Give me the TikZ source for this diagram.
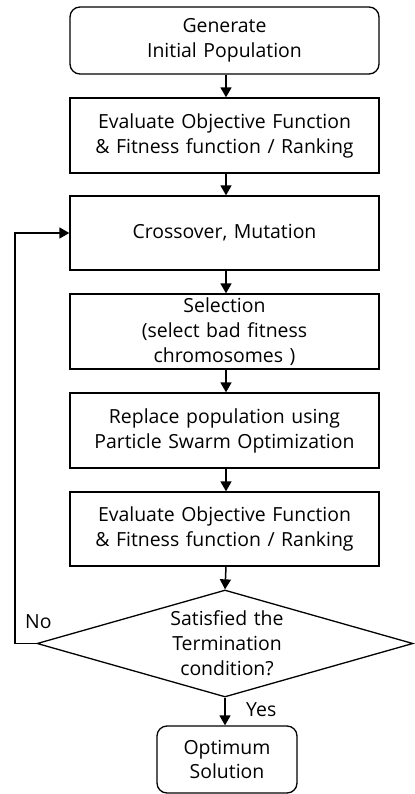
\documentclass[tikz,border=0pt]{standalone}
\usepackage{fontspec}
\setmainfont{Open Sans}[WordSpace={1.3}]
\usetikzlibrary{shapes.geometric,arrows.meta}
\begin{document}
\begin{tikzpicture}[x=1bp,y=-1bp,
  every node/.style={font=\fontsize{19.5}{25}\selectfont, align=center, inner sep=0pt},
  box/.style={draw, line width=1.3bp, minimum width=309bp},
  rbox/.style={box, rounded corners=10bp},
  arr/.style={line width=1.5bp, -{Triangle[length=10bp,width=11bp]}}]
\useasboundingbox (0,0) rectangle (414,794);
\node[rbox, minimum height=67bp] (b1) at (224.5,40.5) {Generate\\Initial Population};
\node[box, minimum height=75bp] (b2) at (224.5,135.5) {Evaluate Objective Function\\\& Fitness function / Ranking};
\node[box, minimum height=74bp] (b3) at (224.5,233) {Crossover, Mutation};
\node[box, minimum height=75bp] (b4) at (224.5,331.5) {Selection\\(select bad fitness\\chromosomes )};
\node[box, minimum height=75bp] (b5) at (224.5,430.5) {Replace population using\\Particle Swarm Optimization};
\node[box, minimum height=74bp] (b6) at (224.5,529) {Evaluate Objective Function\\\& Fitness function / Ranking};
\node[diamond, draw, line width=1.3bp, minimum width=376bp, minimum height=107bp] (d) at (225,643.5) {};
\node (dt) at (227,643.5) {Satisfied the\\Termination\\condition?};
\node[rbox, minimum width=140bp, minimum height=67bp] (b7) at (227,759.5) {Optimum\\Solution};
\coordinate (c1) at (15,643.5);
\coordinate (c2) at (15,233);
\draw[arr] (b1.south -| 226,0) -- (b2.north -| 226,0);
\draw[arr] (b2.south -| 226,0) -- (b3.north -| 226,0);
\draw[arr] (b3.south -| 226,0) -- (b4.north -| 226,0);
\draw[arr] (b4.south -| 226,0) -- (b5.north -| 226,0);
\draw[arr] (b5.south -| 226,0) -- (b6.north -| 226,0);
\draw[arr] (b6.south -| 226,0) -- (d.north);
\draw[arr] (d.south) -- (b7.north -| d.south);
\draw[arr] (d.west) -- (c1) -- (c2) -- (b3.west);
\node[anchor=west] (no) at (25,622) {No};
\node[anchor=west] (yes) at (246,710) {Yes};
\end{tikzpicture}
\end{document}
